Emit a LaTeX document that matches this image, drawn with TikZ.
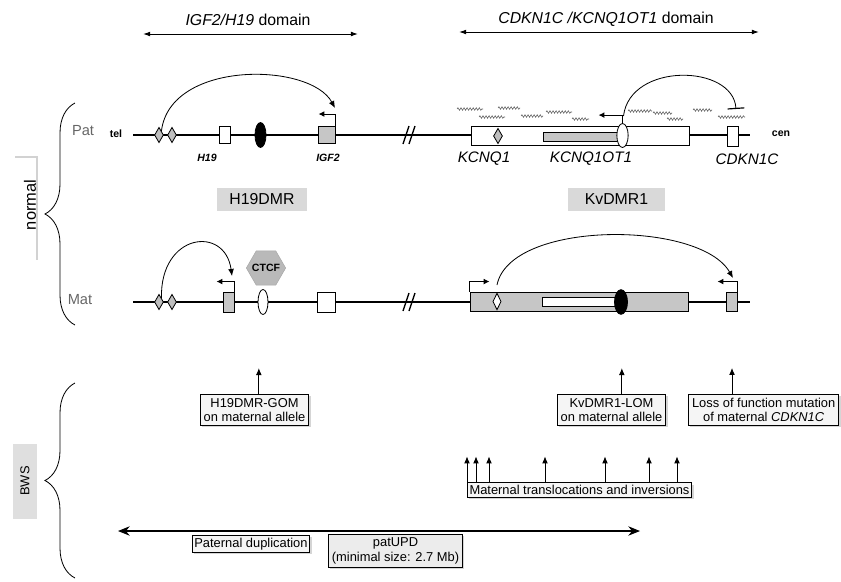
\documentclass[tikz,border=0pt]{standalone}
\usepackage{fontspec}
\setmainfont{Liberation Sans}
\usetikzlibrary{arrows.meta,shapes.geometric,shadows,decorations.pathreplacing,decorations.pathmorphing}

\begin{document}
\begin{tikzpicture}[x=0.03cm,y=-0.03cm,
    chrom/.style={line width=1.2pt},
    box/.style={draw, line width=0.8pt, inner sep=0},
    dia/.style={diamond, draw, line width=0.7pt, fill=gray!50, inner sep=0, minimum width=0.27cm, minimum height=0.46cm},
    blob/.style={ellipse, draw, line width=0.7pt, inner sep=0},
    prom/.style={-{Latex[length=5pt,width=5pt]}, line width=0.9pt},
    loop/.style={-{Latex[length=6pt,width=5pt]}, line width=0.7pt},
    dom/.style={{Latex[length=6pt,width=4pt]}-{Latex[length=6pt,width=4pt]}, line width=0.8pt},
    up/.style={-{Latex[length=6pt,width=5pt]}, line width=0.8pt},
    wavy/.style={decorate, decoration={snake, segment length=2.6pt, amplitude=1.1pt}, line width=0.45pt, gray!70!black},
    note/.style={draw, line width=0.9pt, fill=gray!8, align=center, inner sep=3pt,
      drop shadow={shadow xshift=1.5pt, shadow yshift=-1.5pt, fill=gray!65},
      font=\fontsize{11}{12.5}\selectfont},
    dmr/.style={fill=gray!30, minimum height=0.69cm, font=\fontsize{13.5}{16}\selectfont},
    gname/.style={font=\fontsize{13}{15}\selectfont\itshape},
    small/.style={font=\fontsize{9}{11}\selectfont\bfseries\itshape},
    tag/.style={font=\fontsize{9}{11}\selectfont\bfseries},
    side/.style={font=\fontsize{12.5}{15}\selectfont, text=gray!80!black},
    hex/.style={regular polygon, regular polygon sides=6, draw=gray!70, fill=gray!55, inner sep=0, minimum size=1.18cm}
  ]
  \useasboundingbox (0,0) rectangle (841,581);

  % domains
  \draw[dom] (143,34) -- (358,34);
  \node[font=\fontsize{13.5}{16}\selectfont] (dom1) at (248,20) {\textit{IGF2/H19} domain};
  \draw[dom] (459,32) -- (759,32);
  \node[font=\fontsize{13.5}{16}\selectfont] (dom2) at (606,19) {\textit{CDKN1C /KCNQ1OT1} domain};

  % paternal chromosome
  \node[tag] (tel) at (116,134) {tel};
  \node[tag] (cen) at (781,134) {cen};
  \draw[chrom] (133,135) -- (750,135);
  \draw[chrom] (403,144) -- (409,126) (409,144) -- (415,126);
  \node[dia] (pdA) at (159,135) {};
  \node[dia] (pdB) at (172,135) {};
  \node[box, fill=white, minimum width=0.33cm, minimum height=0.51cm] (ph19) at (224.5,135) {};
  \node[blob, fill=black, minimum width=0.33cm, minimum height=0.75cm] (pimp) at (260.5,135) {};
  \node[box, fill=gray!45, minimum width=0.51cm, minimum height=0.51cm] (pigf) at (326.5,135) {};
  \node[box, fill=white, minimum width=6.54cm, minimum height=0.58cm] (pkcnq) at (580,136) {};
  \node[box, fill=gray!45, minimum width=2.22cm, minimum height=0.27cm] (pot) at (580,136.5) {};
  \node[blob, fill=white, minimum width=0.34cm, minimum height=0.72cm] (pkv) at (622.5,135.5) {};
  \node[dia] (pdK) at (498,136) {};
  \node[box, fill=white, minimum width=0.33cm, minimum height=0.58cm] (pcdk) at (732.5,136.5) {};
  \node[small] (lh19) at (207,158) {H19};
  \node[small] (ligf) at (328,158) {IGF2};
  \node[gname] (lkcnq) at (484,159) {KCNQ1};
  \node[gname] (lot) at (591,159) {KCNQ1OT1};
  \node[gname] (lcdk) at (747,159) {CDKN1C};
  \draw[prom] (pigf.north east) -- ++(0,-12) -- ++(-17,0);
  \draw[prom] (pkv.north) -- ++(0,-8) -- ++(-24,0);
  \coordinate (pigfT) at (335,108);
  \draw[loop] (pdA.north east) .. controls (170,60) and (310,62) .. (pigfT);
  \coordinate (pkvT) at (623.5,116);
  \coordinate (pcdkT) at (736,109);
  \draw[line width=0.7pt, -{Bar[width=0.5cm, line width=1pt]}] (pkvT) .. controls (630,62) and (733,64) .. (pcdkT);
  \foreach \a/\b/\y in {457/483/109, 498/520/108, 546/572/112, 628/652/111, 693/712/110,
                        479/505/117, 521/543/116, 572/589/119, 653/672/113, 667/683/119, 718/745/117}
    \draw[wavy] (\a,\y) -- (\b,\y);

  % DMRs
  \node[dmr, minimum width=2.7cm] (h19dmr) at (262,199.5) {H19DMR};
  \node[dmr, minimum width=2.9cm] (kvdmr) at (616.5,199.5) {KvDMR1};

  % maternal chromosome
  \draw[chrom] (133,302) -- (750,302);
  \draw[chrom] (403,311) -- (409,293) (409,311) -- (415,293);
  \node[dia] (mdA) at (159,302) {};
  \node[dia] (mdB) at (172,302) {};
  \node[box, fill=gray!45, minimum width=0.33cm, minimum height=0.6cm] (mh19) at (228.5,302) {};
  \node[blob, fill=white, minimum width=0.3cm, minimum height=0.75cm] (mctr) at (263,302) {};
  \node[hex, label={[font=\fontsize{9}{11}\selectfont\bfseries]center:CTCF}] (ctcf) at (266,268) {};
  \node[box, fill=white, minimum width=0.54cm, minimum height=0.6cm] (migf) at (326,302) {};
  \node[box, fill=gray!45, minimum width=6.54cm, minimum height=0.57cm] (mkcnq) at (579,301.5) {};
  \node[box, fill=white, minimum width=2.25cm, minimum height=0.27cm] (mot) at (579.5,301.5) {};
  \node[blob, fill=black, minimum width=0.39cm, minimum height=0.74cm] (mkv) at (621,302) {};
  \node[dia, fill=white, minimum width=0.25cm, minimum height=0.5cm] (mdK) at (497,301.5) {};
  \node[box, fill=gray!45, minimum width=0.33cm, minimum height=0.57cm] (mcdk) at (731.5,301.5) {};
  \draw[prom] (mh19.north east) -- ++(0,-10) -- ++(-18,0);
  \draw[prom] (mkcnq.north west) -- ++(0,-10) -- ++(20,0);
  \draw[prom] (mcdk.north east) -- ++(0,-10) -- ++(-20,0);
  \coordinate (mh19T) at (232,276);
  \draw[loop] (mdA.north east) .. controls (160,233) and (225,225) .. (mh19T);
  \coordinate (mkvS) at (497,285);
  \coordinate (mcdkT) at (733,278);
  \draw[loop] (mkvS) .. controls (510,220) and (700,220) .. (mcdkT);

  % left side labels
  \node[side] (pat) at (83,131) {Pat};
  \node[side] (mat) at (80,300) {Mat};
  \draw[decorate, decoration={brace, amplitude=0.9cm}, line width=0.7pt] (75,325) -- (75,103);
  \node[rotate=90, font=\fontsize{14}{16}\selectfont] (normal) at (30,205) {normal};
  \draw[gray!35, line width=2pt] (15,157) -- (37,157) -- (37,260);
  \draw[decorate, decoration={brace, amplitude=0.9cm}, line width=0.7pt] (75,578) -- (75,383);
  \node[rotate=90, fill=gray!25, minimum width=2.25cm, minimum height=0.72cm, font=\fontsize{11}{13}\selectfont] (bws) at (25,481) {BWS};

  % BWS defects
  \node[note] (gom) at (254.5,410) {H19DMR-GOM\\on maternal allele};
  \node[note] (lom) at (611.5,410) {KvDMR1-LOM\\on maternal allele};
  \node[note, anchor=west] (lof) at (688,410) {Loss of function mutation\\of maternal \textit{CDKN1C}};
  \draw[up] ([xshift=0.13cm]gom.north) -- ++(0,-26);
  \draw[up] ([xshift=0.31cm]lom.north) -- ++(0,-26);
  \draw[up] ([xshift=1.32cm]lof.north west) -- ++(0,-26);
  \node[note, inner sep=2pt] (trans) at (579.5,490) {Maternal translocations and inversions};
  \foreach \x in {467,476,489,545,605,649,677}
    \draw[up] (\x,0 |- trans.north) -- ++(0,-26);
  \coordinate (dupL) at (118,531);
  \coordinate (dupR) at (640,531);
  \draw[{Stealth[length=10pt,width=8pt]}-{Stealth[length=10pt,width=8pt]}, line width=0.9pt] (dupL) -- (dupR);
  \node[note, inner sep=2pt] (pdup) at (251,544) {Paternal duplication};
  \node[note, fill=gray!15] (upd) at (395.5,551) {patUPD\\(minimal size: 2.7 Mb)};
\end{tikzpicture}
\end{document}
